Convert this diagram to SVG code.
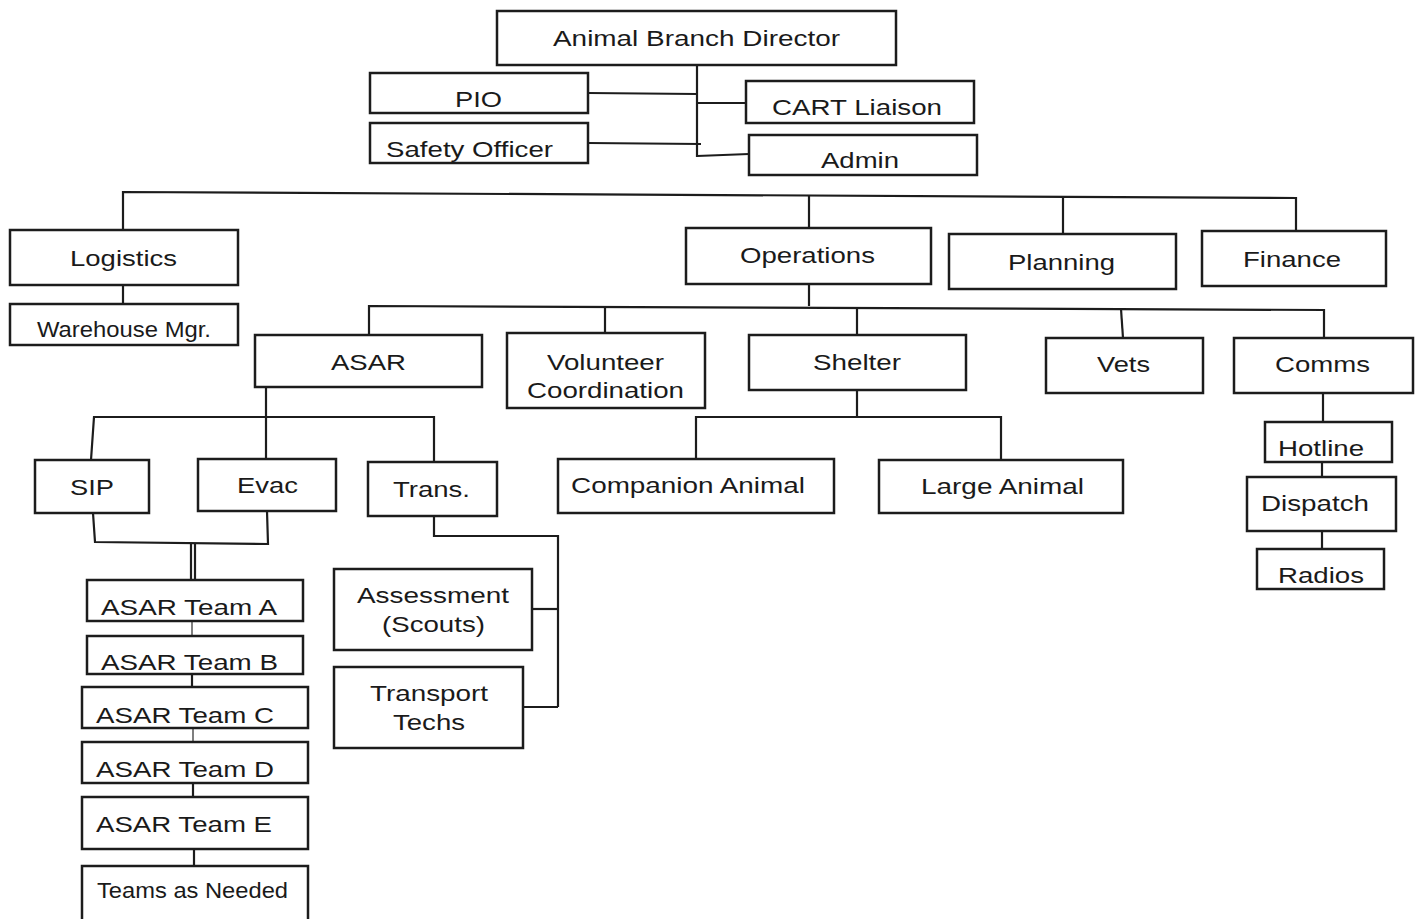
<svg xmlns="http://www.w3.org/2000/svg" width="1419" height="919" viewBox="0 0 1419 919">
<style>
.b{fill:#fff;stroke:#1c1c1c;stroke-width:2.5}
.t{font-family:"Liberation Sans",Arial,sans-serif;font-size:22px;fill:#1a1a1a}
.c{fill:none;stroke:#1c1c1c;stroke-width:2.2}
.thin{fill:none;stroke:#555;stroke-width:1.5}
</style>
<rect width="1419" height="919" fill="#fff"/>
<g id="connectors">
<path class="c" d="M697,65 V157"/>
<path class="c" d="M588,93 L697,94"/>
<path class="c" d="M697,103 H746"/>
<path class="c" d="M588,143 L701,144"/>
<path class="c" d="M697,156 L749,154"/>
<path class="c" d="M123,230 V192 L1296,198 V231"/>
<path class="c" d="M809,195 V228"/>
<path class="c" d="M1063,197 V234"/>
<path class="c" d="M123,285 V304"/>
<path class="c" d="M809,284 V306"/>
<path class="c" d="M369,335 V306 L1324,310 V338"/>
<path class="c" d="M605,307 V333"/>
<path class="c" d="M857,308 V335"/>
<path class="c" d="M1121,309 L1123,338"/>
<path class="c" d="M266,387 V459"/>
<path class="c" d="M91,460 L94,417 H434 V462"/>
<path class="c" d="M93,513 L95,542 L268,544 L267,511"/>
<path class="c" d="M191,543 V580 M195,543 V580"/>
<path class="thin" d="M192,621 V636"/>
<path class="c" d="M192,674 V687"/>
<path class="thin" d="M193,728 V742"/>
<path class="c" d="M193,783 V797"/>
<path class="c" d="M194,849 V866"/>
<path class="c" d="M434,516 V536 H558 V707"/>
<path class="c" d="M532,609 H558"/>
<path class="c" d="M523,707 H558"/>
<path class="c" d="M857,390 V417"/>
<path class="c" d="M696,459 V417 H1001 V460"/>
<path class="c" d="M1323,393 V422"/>
<path class="c" d="M1322,462 V477"/>
<path class="c" d="M1322,531 V549"/>
</g>
<g id="director"><rect class="b" x="497" y="11" width="399" height="54"/><text class="t" x="553" y="46" textLength="287" lengthAdjust="spacingAndGlyphs">Animal Branch Director</text></g>
<g id="pio"><rect class="b" x="370" y="73" width="218" height="40"/><text class="t" x="455" y="107" font-size="24" textLength="47" lengthAdjust="spacingAndGlyphs">PIO</text></g>
<g id="safety"><rect class="b" x="370" y="123" width="218" height="40"/><text class="t" x="386" y="157" font-size="24" textLength="167" lengthAdjust="spacingAndGlyphs">Safety Officer</text></g>
<g id="cart"><rect class="b" x="746" y="81" width="228" height="42"/><text class="t" x="772" y="115" font-size="23" textLength="170" lengthAdjust="spacingAndGlyphs">CART Liaison</text></g>
<g id="admin"><rect class="b" x="749" y="135" width="228" height="40"/><text class="t" x="821" y="168" textLength="78" lengthAdjust="spacingAndGlyphs">Admin</text></g>
<g id="logistics"><rect class="b" x="10" y="230" width="228" height="55"/><text class="t" x="70" y="266" textLength="107" lengthAdjust="spacingAndGlyphs">Logistics</text></g>
<g id="warehouse"><rect class="b" x="10" y="304" width="228" height="41"/><text class="t" x="37" y="337" font-size="20" textLength="174" lengthAdjust="spacingAndGlyphs">Warehouse Mgr.</text></g>
<g id="operations"><rect class="b" x="686" y="228" width="245" height="56"/><text class="t" x="740" y="263" textLength="135" lengthAdjust="spacingAndGlyphs">Operations</text></g>
<g id="planning"><rect class="b" x="949" y="234" width="227" height="55"/><text class="t" x="1008" y="270" textLength="107" lengthAdjust="spacingAndGlyphs">Planning</text></g>
<g id="finance"><rect class="b" x="1202" y="231" width="184" height="55"/><text class="t" x="1243" y="267" textLength="98" lengthAdjust="spacingAndGlyphs">Finance</text></g>
<g id="asar"><rect class="b" x="255" y="335" width="227" height="52"/><text class="t" x="331" y="370" textLength="75" lengthAdjust="spacingAndGlyphs">ASAR</text></g>
<g id="volunteer"><rect class="b" x="507" y="333" width="198" height="75"/><text class="t" x="547" y="370" textLength="117" lengthAdjust="spacingAndGlyphs">Volunteer</text><text class="t" x="527" y="398" textLength="157" lengthAdjust="spacingAndGlyphs">Coordination</text></g>
<g id="shelter"><rect class="b" x="749" y="335" width="217" height="55"/><text class="t" x="813" y="370" textLength="88" lengthAdjust="spacingAndGlyphs">Shelter</text></g>
<g id="vets"><rect class="b" x="1046" y="338" width="157" height="55"/><text class="t" x="1097" y="372" textLength="53" lengthAdjust="spacingAndGlyphs">Vets</text></g>
<g id="comms"><rect class="b" x="1234" y="338" width="179" height="55"/><text class="t" x="1275" y="372" textLength="95" lengthAdjust="spacingAndGlyphs">Comms</text></g>
<g id="sip"><rect class="b" x="35" y="460" width="114" height="53"/><text class="t" x="70" y="495" font-size="23" textLength="44" lengthAdjust="spacingAndGlyphs">SIP</text></g>
<g id="evac"><rect class="b" x="198" y="459" width="138" height="52"/><text class="t" x="237" y="493" font-size="23" textLength="61" lengthAdjust="spacingAndGlyphs">Evac</text></g>
<g id="trans"><rect class="b" x="368" y="462" width="129" height="54"/><text class="t" x="393" y="497" font-size="23" textLength="77" lengthAdjust="spacingAndGlyphs">Trans.</text></g>
<g id="companion"><rect class="b" x="558" y="459" width="276" height="54"/><text class="t" x="571" y="493" textLength="234" lengthAdjust="spacingAndGlyphs">Companion Animal</text></g>
<g id="large"><rect class="b" x="879" y="460" width="244" height="53"/><text class="t" x="921" y="494" textLength="163" lengthAdjust="spacingAndGlyphs">Large Animal</text></g>
<g id="hotline"><rect class="b" x="1265" y="422" width="127" height="40"/><text class="t" x="1278" y="456" textLength="86" lengthAdjust="spacingAndGlyphs">Hotline</text></g>
<g id="dispatch"><rect class="b" x="1247" y="477" width="149" height="54"/><text class="t" x="1261" y="511" font-size="23" textLength="108" lengthAdjust="spacingAndGlyphs">Dispatch</text></g>
<g id="radios"><rect class="b" x="1257" y="549" width="127" height="40"/><text class="t" x="1278" y="583" textLength="86" lengthAdjust="spacingAndGlyphs">Radios</text></g>
<g id="teamA"><rect class="b" x="87" y="580" width="216" height="41"/><text class="t" x="101" y="615" font-size="24" textLength="176" lengthAdjust="spacingAndGlyphs">ASAR Team A</text></g>
<g id="teamB"><rect class="b" x="87" y="636" width="216" height="38"/><text class="t" x="101" y="670" font-size="24" textLength="177" lengthAdjust="spacingAndGlyphs">ASAR Team B</text></g>
<g id="teamC"><rect class="b" x="82" y="687" width="226" height="41"/><text class="t" x="96" y="723" font-size="24" textLength="178" lengthAdjust="spacingAndGlyphs">ASAR Team C</text></g>
<g id="teamD"><rect class="b" x="82" y="742" width="226" height="41"/><text class="t" x="96" y="777" font-size="24" textLength="178" lengthAdjust="spacingAndGlyphs">ASAR Team D</text></g>
<g id="teamE"><rect class="b" x="82" y="797" width="226" height="52"/><text class="t" x="96" y="832" font-size="24" textLength="176" lengthAdjust="spacingAndGlyphs">ASAR Team E</text></g>
<g id="needed"><rect class="b" x="82" y="866" width="226" height="60"/><text class="t" x="97" y="898" font-size="21" textLength="191" lengthAdjust="spacingAndGlyphs">Teams as Needed</text></g>
<g id="assessment"><rect class="b" x="334" y="569" width="198" height="81"/><text class="t" x="357" y="603" textLength="152" lengthAdjust="spacingAndGlyphs">Assessment</text><text class="t" x="382" y="632" textLength="103" lengthAdjust="spacingAndGlyphs">(Scouts)</text></g>
<g id="transport"><rect class="b" x="334" y="667" width="189" height="81"/><text class="t" x="370" y="701" textLength="118" lengthAdjust="spacingAndGlyphs">Transport</text><text class="t" x="393" y="730" textLength="72" lengthAdjust="spacingAndGlyphs">Techs</text></g>
</svg>
